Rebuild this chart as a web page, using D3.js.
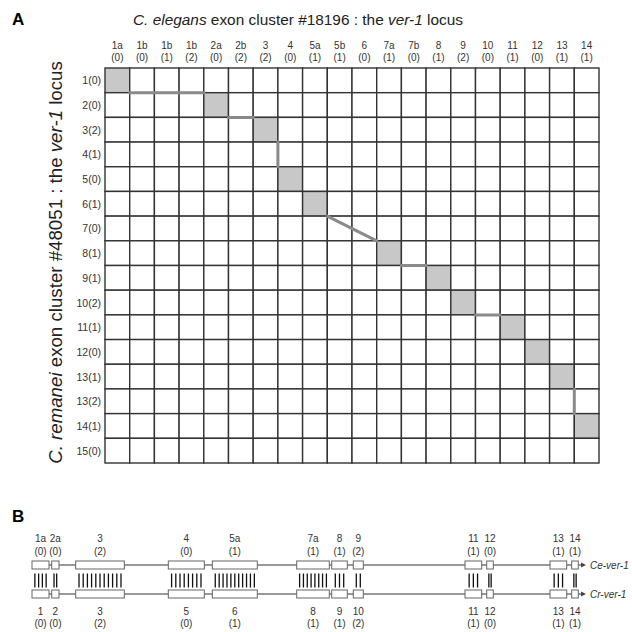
<!DOCTYPE html>
<html>
<head>
<meta charset="utf-8">
<script src="https://cdn.jsdelivr.net/npm/d3@7"></script>
<style>
  body { margin: 0; background: #fff; }
  svg { font-family: "Liberation Sans", Arial, sans-serif; }
</style>
</head>
<body>
<div class="chart"></div>
<script>
// ---------------------------------------------------------------------------
// panel A : exon cluster matrix
// ---------------------------------------------------------------------------
var colExons = ["1a","1b","1b","1b","2a","2b","3","4","5a","5b","6","7a","7b","8","9","10","11","12","13","14"];
var colFrames = [0,0,1,2,0,2,2,0,1,1,0,1,0,1,2,0,1,0,1,1];
var rowExons = ["1","2","3","4","5","6","7","8","9","10","11","12","13","13","14","15"];
var rowFrames = [0,0,2,1,0,1,0,1,1,2,1,0,1,2,1,0];
// matched cells, [row, col]
var matches = [[0,0],[1,4],[2,6],[4,7],[5,8],[7,11],[8,13],[9,14],[10,16],[11,17],[12,18],[14,19]];

// ---------------------------------------------------------------------------
// panel B : gene models (relative genomic position)
// ---------------------------------------------------------------------------
var ceNames  = ["1a","2a","3","4","5a","7a","8","9","11","12","13","14"];
var ceFrames = [0,0,2,0,1,1,1,2,1,0,1,1];
var crNames  = ["1","2","3","5","6","8","9","10","11","12","13","14"];
var crFrames = [0,0,2,0,1,1,1,2,1,0,1,1];
var exonStart = [0, 19.7, 43.7, 136.3, 180.3, 264.7, 299.7, 321.3, 433, 454.7, 518, 539.7];
var exonEnd   = [17, 27, 92.3, 172.3, 225.3, 297.3, 315.3, 331.3, 449.7, 461.3, 534.7, 546.3];
var alignTicks = [4, 2, 11, 8, 11, 8, 3, 2, 3, 2, 3, 2];
var geneEnd = 553;

var width = 632,
    height = 632;

var svg = d3.select(".chart").append("svg")
  .attr("width", width)
  .attr("height", height);

var x = d3.scaleBand().domain(d3.range(colExons.length)).range([105, 599]);
var y = d3.scaleBand().domain(d3.range(rowExons.length)).range([68, 463]);

var isMatch = {};
matches.forEach(function(m) { isMatch[m[0] + "-" + m[1]] = true; });

// panel letter + title
svg.append("text").attr("x", 12).attr("y", 25)
  .style("font-size", "17px").style("font-weight", "bold").text("A");

var title = svg.append("text").attr("x", 298).attr("y", 25)
  .attr("text-anchor", "middle").style("font-size", "15.4px").attr("fill", "#222");
title.append("tspan").style("font-style", "italic").text("C. elegans");
title.append("tspan").text(" exon cluster #18196 : the ");
title.append("tspan").style("font-style", "italic").text("ver-1");
title.append("tspan").text(" locus");

var ytitle = svg.append("text")
  .attr("transform", "translate(62," + 262.5 + ") rotate(-90)")
  .attr("text-anchor", "middle").style("font-size", "18.7px").attr("fill", "#222");
ytitle.append("tspan").style("font-style", "italic").text("C. remanei");
ytitle.append("tspan").text(" exon cluster #48051 : the ");
ytitle.append("tspan").style("font-style", "italic").text("ver-1");
ytitle.append("tspan").text(" locus");

// cells
var cells = [];
rowExons.forEach(function(r, i) {
  colExons.forEach(function(c, j) { cells.push({ r: i, c: j }); });
});

svg.append("g").selectAll("rect")
  .data(cells)
  .enter()
  .append("rect")
  .attr("x", function(d) { return x(d.c); })
  .attr("y", function(d) { return y(d.r); })
  .attr("width", x.bandwidth())
  .attr("height", y.bandwidth())
  .style("fill", function(d) { return isMatch[d.r + "-" + d.c] ? "#c8c8c8" : "#fff"; })
  .style("stroke", "#333")
  .style("stroke-width", 1.4);

// path linking the matched cells corner to corner
var links = [];
for (var k = 1; k < matches.length; k++) {
  var a = matches[k - 1], b = matches[k];
  var x1 = x(a[1]) + x.bandwidth(), y1 = y(a[0]) + y.bandwidth();
  var x2 = x(b[1]), y2 = y(b[0]);
  if (Math.abs(x1 - x2) > 1 || Math.abs(y1 - y2) > 1) links.push([x1, y1, x2, y2]);
}
svg.append("g").selectAll("line")
  .data(links)
  .enter()
  .append("line")
  .attr("x1", function(d) { return d[0]; })
  .attr("y1", function(d) { return d[1]; })
  .attr("x2", function(d) { return d[2]; })
  .attr("y2", function(d) { return d[3]; })
  .style("stroke", "#8a8a8a")
  .style("stroke-width", 3)
  .style("stroke-linecap", "round");

// column headers
var colG = svg.append("g").selectAll("g")
  .data(colExons)
  .enter()
  .append("g")
  .attr("transform", function(d, i) { return "translate(" + (x(i) + x.bandwidth() / 2) + ",0)"; });
colG.append("text").attr("y", 48.5).attr("text-anchor", "middle")
  .style("font-size", "10px").attr("fill", "#333").text(function(d) { return d; });
colG.append("text").attr("y", 61).attr("text-anchor", "middle")
  .style("font-size", "10px").attr("fill", "#333").text(function(d, i) { return "(" + colFrames[i] + ")"; });

// row labels
svg.append("g").selectAll("text")
  .data(rowExons)
  .enter()
  .append("text")
  .attr("x", 101)
  .attr("y", function(d, i) { return y(i) + y.bandwidth() / 2 + 4; })
  .attr("text-anchor", "end")
  .style("font-size", "10.5px")
  .attr("fill", "#333")
  .text(function(d, i) { return d + "(" + rowFrames[i] + ")"; });

// ---------------------------------------------------------------------------
// panel B
// ---------------------------------------------------------------------------
svg.append("text").attr("x", 12).attr("y", 522)
  .style("font-size", "17px").style("font-weight", "bold").text("B");

var gx = d3.scaleLinear().domain([0, 551]).range([32, 583]);
var ceY = 565, crY = 594, boxH = 8;

function gene(yc, names, frames, label, above) {
  var g = svg.append("g");
  g.append("line").attr("x1", gx(0)).attr("x2", gx(geneEnd) - 3)
    .attr("y1", yc).attr("y2", yc)
    .style("stroke", "#777").style("stroke-width", 1.4);
  g.append("path")
    .attr("d", "M" + (gx(geneEnd) - 4) + "," + (yc - 2.5) + "L" + (gx(geneEnd) + 1) + "," + yc + "L" + (gx(geneEnd) - 4) + "," + (yc + 2.5) + "Z")
    .style("fill", "#444");
  g.selectAll("rect")
    .data(names)
    .enter()
    .append("rect")
    .attr("x", function(d, i) { return gx(exonStart[i]); })
    .attr("y", yc - boxH / 2)
    .attr("width", function(d, i) { return gx(exonEnd[i]) - gx(exonStart[i]); })
    .attr("height", boxH)
    .style("fill", "#fff")
    .style("stroke", "#666")
    .style("stroke-width", 1);
  var lab = g.selectAll(".lab")
    .data(names)
    .enter()
    .append("g")
    .attr("class", "lab")
    .attr("transform", function(d, i) { return "translate(" + (gx(exonStart[i]) + gx(exonEnd[i])) / 2 + ",0)"; });
  lab.append("text").attr("y", above ? 542 : 614.5).attr("text-anchor", "middle")
    .style("font-size", "10px").attr("fill", "#333").text(function(d) { return d; });
  lab.append("text").attr("y", above ? 554.5 : 627).attr("text-anchor", "middle")
    .style("font-size", "10px").attr("fill", "#333").text(function(d, i) { return "(" + frames[i] + ")"; });
  g.append("text").attr("x", gx(geneEnd) + 5).attr("y", yc + 3.5)
    .style("font-size", "10px").style("font-style", "italic").attr("fill", "#333").text(label);
}
gene(ceY, ceNames, ceFrames, "Ce-ver-1", true);
gene(crY, crNames, crFrames, "Cr-ver-1", false);

// alignment ticks between orthologous exons
var ticks = [];
alignTicks.forEach(function(n, i) {
  var x0 = gx(exonStart[i]), w = gx(exonEnd[i]) - x0;
  var s = Math.min(4.2, (w - 2) / n);
  var start = x0 + w / 2 - (n - 1) * s / 2;
  for (var t = 0; t < n; t++) ticks.push(start + t * s);
});
svg.append("g").selectAll("line")
  .data(ticks)
  .enter()
  .append("line")
  .attr("x1", function(d) { return d; })
  .attr("x2", function(d) { return d; })
  .attr("y1", 573.5)
  .attr("y2", 587.5)
  .style("stroke", "#111")
  .style("stroke-width", 1.3);
</script>
</body>
</html>
